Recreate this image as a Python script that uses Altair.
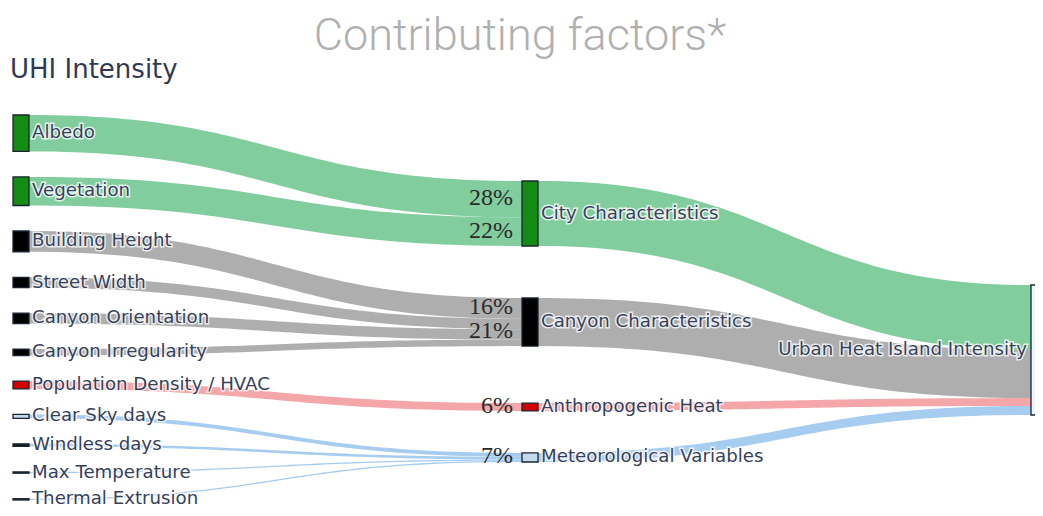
import altair as alt
import numpy as np
import pandas as pd

# ---------------- data ----------------
SOURCES = ["Albedo", "Vegetation", "Building Height", "Street Width",
           "Canyon Orientation", "Canyon Irregularity", "Population Density / HVAC",
           "Clear Sky days", "Windless days", "Max Temperature", "Thermal Extrusion"]
SOURCE_VALUES = [28, 22, 16, 8, 8, 5, 6, 3, 2, 1, 1]
SOURCE_TARGETS = ["City Characteristics"] * 2 + ["Canyon Characteristics"] * 4 + \
                 ["Anthropogenic Heat"] + ["Meteorological Variables"] * 4
MIDDLE = ["City Characteristics", "Canyon Characteristics", "Anthropogenic Heat",
          "Meteorological Variables"]
FINAL = "Urban Heat Island Intensity"
PCT_GROUPS = [["Albedo"], ["Vegetation"], ["Building Height"],
              ["Street Width", "Canyon Orientation", "Canyon Irregularity"],
              ["Population Density / HVAC"],
              ["Clear Sky days", "Windless days", "Max Temperature", "Thermal Extrusion"]]
TITLE = "Contributing factors*"
SUBTITLE = "UHI Intensity"

# ---------------- styles ----------------
FAMILY = {"City Characteristics": ("#62c186", "#148c14"),
          "Canyon Characteristics": ("#9a9a9a", "#000000"),
          "Anthropogenic Heat": ("#f19092", "#d40000"),
          "Meteorological Variables": ("#90bfeb", "#c5d9ec")}
SOURCE_FILL = ["#148c14", "#148c14", "#000000", "#000000", "#000000", "#000000",
               "#d40000", "#c5d9ec", "#1a1a1a", "#1a1a1a", "#1a1a1a"]
FINAL_FILL = "#eef4fb"

# ---------------- layout (reference pixel space) ----------------
K = 1.3            # px per percent
SRC_TOP, PAD = 115, 25.5
SRC_X = (13, 29)
MID_X = (522, 538)
FIN_X = (1031, 1046)
MID_TOP, MID_GAPS = 181, [52, 57, 42]
FIN_TOP = 285

nodes = []
src_span = {}
y = SRC_TOP
for name, v, f in zip(SOURCES, SOURCE_VALUES, SOURCE_FILL):
    h = v * K
    src_span[name] = (y, y + h)
    nodes.append(dict(name=name, x0=SRC_X[0], x1=SRC_X[1], y0=y, y1=y + h, fill=f))
    y += h + PAD

mid_val = {m: sum(v for v, t in zip(SOURCE_VALUES, SOURCE_TARGETS) if t == m) for m in MIDDLE}
mid_span = {}
y = MID_TOP
for i, m in enumerate(MIDDLE):
    h = mid_val[m] * K
    mid_span[m] = (y, y + h)
    nodes.append(dict(name=m, x0=MID_X[0], x1=MID_X[1], y0=y, y1=y + h, fill=FAMILY[m][1]))
    if i < len(MID_GAPS):
        y += h + MID_GAPS[i]
total = sum(mid_val.values())
fin_span = (FIN_TOP, FIN_TOP + total * K)
nodes.append(dict(name=FINAL, x0=FIN_X[0], x1=FIN_X[1], y0=fin_span[0], y1=fin_span[1], fill=FINAL_FILL))
nodes_df = pd.DataFrame(nodes)

# links
t = np.linspace(0, 1, 60)
s = 3 * t ** 2 - 2 * t ** 3
rows = []
def add_link(lid, xa, xb, a, b, color):
    d = xb - xa
    c0, c1 = xa + 0.5 * d, xb - 0.5 * d
    xs = (1 - t) ** 3 * xa + 3 * (1 - t) ** 2 * t * c0 + 3 * (1 - t) * t ** 2 * c1 + t ** 3 * xb
    top = a[0] + (b[0] - a[0]) * s
    bot = a[1] + (b[1] - a[1]) * s
    for xx, yt, yb in zip(xs, top, bot):
        rows.append(dict(link=lid, x=xx, yt=yt, yb=yb, color=color))

incoming_pos = {m: mid_span[m][0] for m in MIDDLE}
link_tgt = {}
for name, v, tg in zip(SOURCES, SOURCE_VALUES, SOURCE_TARGETS):
    y0 = incoming_pos[tg]
    link_tgt[name] = (y0, y0 + v * K)
    incoming_pos[tg] += v * K
    add_link(name, SRC_X[1], MID_X[0], src_span[name], link_tgt[name], FAMILY[tg][0])
yf = fin_span[0]
for m in MIDDLE:
    h = mid_val[m] * K
    add_link(m, MID_X[1], FIN_X[0], mid_span[m], (yf, yf + h), FAMILY[m][0])
    yf += h
links_df = pd.DataFrame(rows)

# labels
lab = []
for name in SOURCES:
    a, b = src_span[name]
    lab.append(dict(text=name, x=SRC_X[1] + 3, y=(a + b) / 2))
for m in MIDDLE:
    a, b = mid_span[m]
    lab.append(dict(text=m, x=MID_X[1] + 3, y=(a + b) / 2))
lab_df = pd.DataFrame(lab)
fin_lab = pd.DataFrame([dict(text=FINAL, x=FIN_X[0] - 4, y=sum(fin_span) / 2)])

pct = []
for g in PCT_GROUPS:
    v = sum(SOURCE_VALUES[SOURCES.index(n)] for n in g)
    a = link_tgt[g[0]][0]
    b = link_tgt[g[-1]][1]
    pct.append(dict(text=f"{v}%", x=MID_X[0] - 9, y=(a + b) / 2 - 1))
pct_df = pd.DataFrame(pct)

# ---------------- chart ----------------
W, H = 1027, 500
xs = alt.Scale(domain=[8, 8 + W], nice=False, zero=False)
ys = alt.Scale(domain=[8, 8 + H], nice=False, zero=False, reverse=True)

link_layer = alt.Chart(links_df).mark_area(opacity=0.8, interpolate="linear").encode(
    x=alt.X("x:Q", scale=xs, axis=None),
    y=alt.Y("yt:Q", scale=ys, axis=None),
    y2="yb:Q",
    detail="link:N",
    fill=alt.Fill("color:N", scale=None),
)

node_layer = alt.Chart(nodes_df).mark_rect(stroke="#1b2431", strokeWidth=1.3, clip=True).encode(
    x=alt.X("x0:Q", scale=xs, axis=None), x2="x1:Q",
    y=alt.Y("y0:Q", scale=ys, axis=None), y2="y1:Q",
    fill=alt.Fill("fill:N", scale=None),
)

LABEL_FONT = "DejaVu Sans"
LABEL_SIZE = 18.2
LABEL_COLOR = "#35415a"

def text_layers(df, align):
    enc = dict(x=alt.X("x:Q", scale=xs, axis=None), y=alt.Y("y:Q", scale=ys, axis=None), text="text:N")
    halo = alt.Chart(df).mark_text(align=align, baseline="middle", font=LABEL_FONT, fontSize=LABEL_SIZE,
                                   stroke="white", strokeWidth=3, strokeOpacity=0.75, fill="white").encode(**enc)
    main = alt.Chart(df).mark_text(align=align, baseline="middle", font=LABEL_FONT, fontSize=LABEL_SIZE,
                                   color=LABEL_COLOR).encode(**enc)
    return [halo, main]

pct_layer = alt.Chart(pct_df).mark_text(align="right", baseline="middle", font="Liberation Serif",
                                        fontSize=24, color="#2b2b2b").encode(
    x=alt.X("x:Q", scale=xs, axis=None), y=alt.Y("y:Q", scale=ys, axis=None), text="text:N")

title_layer = alt.Chart(pd.DataFrame({"t": [TITLE]})).mark_text(
    align="center", baseline="middle", font="Roboto", fontWeight=300, fontSize=45, color="#b0b0b0"
).encode(x=alt.value(512), y=alt.value(28), text="t:N")

sub_layer = alt.Chart(pd.DataFrame({"t": [SUBTITLE]})).mark_text(
    align="left", baseline="middle", font="DejaVu Sans", fontSize=26, color="#2f3a52"
).encode(x=alt.value(2), y=alt.value(62), text="t:N")

chart = alt.layer(
    link_layer, node_layer,
    *text_layers(lab_df, "left"), *text_layers(fin_lab, "right"),
    pct_layer, title_layer, sub_layer,
).properties(
    width=W, height=H,
    autosize=alt.AutoSizeParams(type="none"),
    padding=0, background="white",
).configure_view(stroke=None)

chart.save("out.html", embed_options={"renderer": "svg", "actions": False})
